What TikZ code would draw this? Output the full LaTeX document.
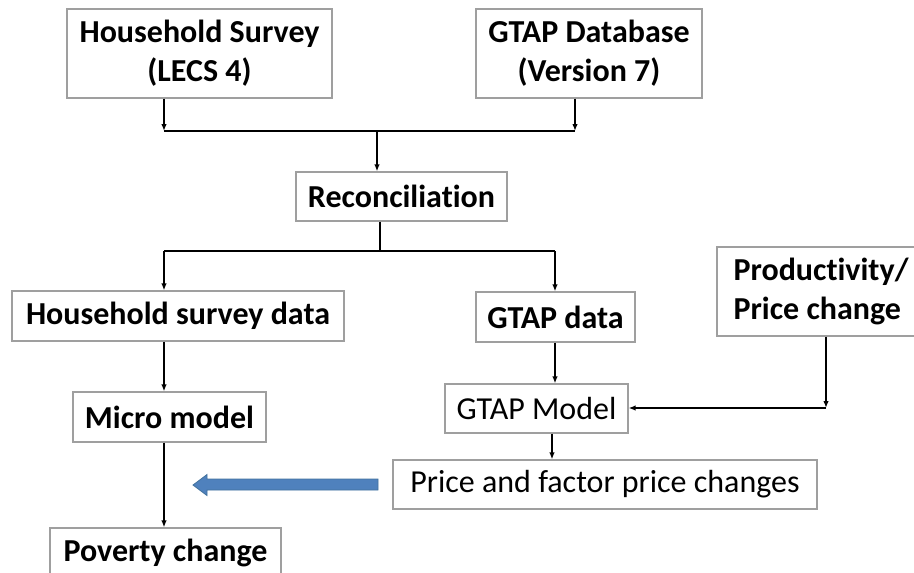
\documentclass[tikz,border=0pt]{standalone}
\usepackage{fontspec}
\setmainfont{Carlito}[Ligatures=NoCommon]
\usetikzlibrary{arrows.meta, positioning}

\begin{document}
\begin{tikzpicture}[x=1pt, y=-1pt,
    >={Latex[length=7pt,width=5.5pt]},
    box/.style={draw=gray!75, line width=1.2pt, inner sep=0pt,
                font=\fontsize{32}{39}\selectfont\bfseries, align=center},
    plainbox/.style={box, font=\fontsize{32}{39}\selectfont},
    flow/.style={line width=1.6pt}]
      \useasboundingbox (0,0) rectangle (914,573);

      % Nodes
      \node[box, minimum width=265pt, minimum height=89pt] (survey) at (199.5, 53.5) {Household Survey\\(LECS 4)};
      \node[box, minimum width=226pt, minimum height=89pt] (gtapdb) at (589, 53.5) {GTAP Database\\(Version 7)};
      \node[box, minimum width=211pt, minimum height=49pt] (recon) at (401.5, 196.5) {Reconciliation};
      \node[box, minimum width=332pt, minimum height=50pt] (hhdata) at (178, 316) {Household survey data};
      \node[box, minimum width=159pt, minimum height=50pt] (gtapdata) at (555.5, 317) {GTAP data};
      \node[box, align=left, minimum width=208pt, minimum height=89pt] (shock) at (821, 291.5) {Productivity/\\Price change};
      \node[box, minimum width=193pt, minimum height=50pt] (micro) at (169.5, 417) {Micro model};
      \node[plainbox, minimum width=183pt, minimum height=49pt] (gtapmodel) at (536.5, 408.5) {GTAP Model};
      \node[plainbox, minimum width=424pt, minimum height=49pt] (prices) at (605, 484.5) {Price and factor price changes};
      \node[box, minimum width=231pt, minimum height=50pt] (poverty) at (165.5, 553) {Poverty change};

      % Junctions
      \coordinate (j1) at (164, 131);
      \coordinate (j2) at (575, 131);
      \coordinate (j3) at (377, 131);
      \coordinate (j4) at (380, 251);
      \coordinate (j5) at (164, 251);
      \coordinate (j6) at (555, 251);
      \coordinate (j7) at (826, 408);

      % Edges
      \draw[flow, ->] (survey.south -| j1) -- (j1);
      \draw[flow, ->] (gtapdb.south -| j2) -- (j2);
      \draw[flow] (j1) -- (j2);
      \draw[flow, ->] (j3) -- (recon.north -| j3);
      \draw[flow] (recon.south -| j4) -- (j4);
      \draw[flow] (j5) -- (j6);
      \draw[flow, ->] (j5) -- (hhdata.north -| j5);
      \draw[flow, ->] (j6) -- (gtapdata.north -| j6);
      \draw[flow, ->] (hhdata.south -| j5) -- (micro.north -| j5);
      \draw[flow, ->] (gtapdata.south -| j6) -- (gtapmodel.north -| j6);
      \draw[flow, ->] (shock.south -| j7) -- (j7);
      \draw[flow, ->] (j7) -- (gtapmodel.east |- j7);
      \draw[flow, ->] (gtapmodel.south -| 552,0) -- (prices.north -| 552,0);
      \draw[flow, ->] (micro.south -| j5) -- (poverty.north -| j5);

      % Block arrow
      \draw[fill={rgb,255:red,79;green,129;blue,189}, draw={rgb,255:red,65;green,113;blue,156}, line width=0.8pt]
        (378,479) -- (207,479) -- (207,474.5) -- (193,485) -- (207,495.5) -- (207,490) -- (378,490) -- cycle;

    \end{tikzpicture}
\end{document}
